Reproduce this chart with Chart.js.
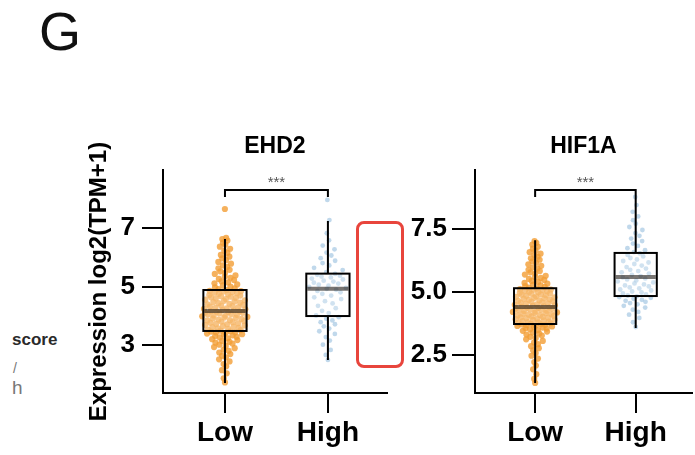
<!DOCTYPE html>
<html><head><meta charset="utf-8">
<script src="https://cdn.jsdelivr.net/npm/chart.js@4.4.1/dist/chart.umd.min.js"></script>
<style>
html,body{margin:0;padding:0;background:#fff;}
body{width:695px;height:455px;overflow:hidden;position:relative;font-family:"Liberation Sans",Arial,sans-serif;}
canvas{position:absolute;top:0}
#c1{left:0;width:390px;height:455px}
#c2{left:390px;width:305px;height:455px}
.t{position:absolute;white-space:nowrap;line-height:1}
#redbox{position:absolute;left:356px;top:221px;width:48px;height:147px;box-sizing:border-box;border:3px solid #e8453c;border-radius:8px;}
</style></head><body>
<div class="t" style="left:39px;top:4px;font-size:54px;color:#111">G</div>
<div class="t" style="left:12px;top:330.5px;font-size:17px;font-weight:bold;color:#2a2a2a">score</div>
<div class="t" style="left:13px;top:361px;font-size:14px;color:#777">/</div>
<div class="t" style="left:12px;top:378px;font-size:19px;color:#777">h</div>
<canvas id="c1" width="390" height="455"></canvas>
<canvas id="c2" width="305" height="455"></canvas>
<div id="redbox"></div>
<script>
// ---------------- data ----------------
const categories = ['Low', 'High'];
const panelTitles = ['EHD2', 'HIF1A'];
const yAxisTitle = 'Expression log2(TPM+1)';
const sigLabels = ['***', '***'];

const ehd2Low = [1.72,1.86,2.03,2.14,2.27,2.35,2.44,2.51,2.58,2.63,2.69,2.74,2.80,2.84,2.89,2.93,2.97,3.01,3.05,3.08,3.11,3.14,3.17,3.20,3.23,3.26,3.28,3.31,3.33,3.35,3.37,3.39,3.41,3.43,3.44,3.46,3.47,
 3.49,3.51,3.53,3.55,3.57,3.59,3.61,3.63,3.65,3.67,3.69,3.71,3.72,3.74,3.76,3.78,3.80,3.82,3.84,3.85,3.87,3.89,3.91,3.93,3.94,3.96,3.98,4.00,4.01,4.03,4.05,4.06,4.08,4.10,4.11,4.13,4.14,
 4.15,4.16,4.18,4.20,4.22,4.24,4.25,4.27,4.29,4.31,4.33,4.35,4.37,4.39,4.41,4.43,4.45,4.47,4.49,4.51,4.53,4.55,4.57,4.59,4.61,4.63,4.65,4.67,4.69,4.71,4.73,4.75,4.77,4.79,4.81,4.83,4.84,4.85,
 4.88,4.91,4.94,4.97,5.00,5.04,5.07,5.11,5.14,5.18,5.22,5.26,5.30,5.34,5.38,5.43,5.47,5.52,5.57,5.62,5.67,5.72,5.78,5.84,5.90,5.96,6.02,6.08,6.15,6.22,6.29,6.36,6.43,6.50,6.57,6.62,6.66,7.65];
const ehd2High = [2.49,2.66,2.83,3.01,3.15,3.27,3.38,3.47,3.56,3.64,3.71,3.78,3.84,3.90,3.95,
 4.01,4.09,4.17,4.26,4.34,4.42,4.50,4.57,4.63,4.69,4.75,4.80,4.85,4.89,4.92,
 4.95,4.99,5.03,5.06,5.10,5.13,5.17,5.20,5.24,5.27,5.31,5.34,5.37,5.40,5.43,
 5.49,5.56,5.64,5.72,5.80,5.88,5.97,6.06,6.16,6.27,6.40,6.58,6.82,7.27,7.96];
const hif1aLow = [1.39,1.55,1.74,1.93,2.08,2.22,2.36,2.47,2.58,2.68,2.77,2.85,2.93,3.00,3.06,3.12,3.17,3.22,3.27,3.31,3.35,3.39,3.43,3.46,3.49,3.52,3.55,3.57,3.59,3.61,3.63,3.65,3.67,3.68,3.70,3.71,3.72,
 3.74,3.76,3.78,3.80,3.81,3.83,3.85,3.87,3.89,3.90,3.92,3.94,3.96,3.98,3.99,4.01,4.03,4.05,4.07,4.08,4.10,4.12,4.14,4.16,4.17,4.19,4.21,4.23,4.25,4.26,4.28,4.30,4.32,4.34,4.35,4.37,4.38,4.39,
 4.41,4.43,4.45,4.47,4.49,4.51,4.53,4.55,4.57,4.59,4.61,4.63,4.65,4.67,4.69,4.71,4.73,4.75,4.77,4.79,4.81,4.83,4.85,4.87,4.89,4.91,4.93,4.95,4.97,4.99,5.01,5.03,5.05,5.07,5.09,5.10,5.11,
 5.14,5.17,5.20,5.23,5.26,5.29,5.33,5.36,5.40,5.44,5.48,5.52,5.56,5.60,5.64,5.69,5.73,5.78,5.83,5.88,5.93,5.98,6.04,6.10,6.16,6.22,6.28,6.34,6.40,6.46,6.52,6.58,6.65,6.72,6.80,6.88,6.95,7.02];
const hif1aHigh = [3.61,3.80,3.97,4.10,4.21,4.30,4.38,4.45,4.51,4.56,4.61,4.65,4.69,4.73,4.77,4.80,4.83,
 4.86,4.90,4.94,4.98,5.02,5.06,5.10,5.14,5.18,5.22,5.26,5.30,5.34,5.38,5.42,5.46,5.50,5.54,
 5.58,5.63,5.68,5.73,5.78,5.83,5.88,5.93,5.99,6.05,6.11,6.17,6.23,6.29,6.35,6.41,6.47,6.53,
 6.58,6.66,6.74,6.83,6.92,7.02,7.12,7.23,7.34,7.46,7.58,7.71,7.85,8.00,8.18,8.45,8.77];

// box statistics: [whiskerLow, q1, median, q3, whiskerHigh]
const ehd2Stats = [[1.70, 3.48, 4.16, 4.88, 6.62], [2.49, 3.99, 4.92, 5.44, 7.24]];
const hif1aStats = [[1.39, 3.73, 4.40, 5.15, 7.05], [3.57, 4.84, 5.60, 6.55, 8.77]];

// significance bracket heights [top, leg end]
const ehd2Bracket = [8.30, 8.06];
const hif1aBracket = [9.05, 8.77];

// axis ticks
const ehd2YTicks = [3, 5, 7];
const ehd2YTickLabels = ['3', '5', '7'];
const hif1aYTicks = [2.5, 5.0, 7.5];
const hif1aYTickLabels = ['2.5', '5.0', '7.5'];
const ehd2YRange = [1.359, 8.983];
const hif1aYRange = [0.992, 9.841];

// ---------------- layout helpers ----------------
const FONT = '"Liberation Sans", Arial, Helvetica, sans-serif';
Chart.defaults.font.family = FONT;
const LOW_COLOR = 'rgba(243,157,52,0.8)';
const HIGH_COLOR = 'rgba(150,190,222,0.6)';
const BOX_HALF = 0.21;

function vdc(n) { let v = 0, d = 1; while (n > 0) { d *= 2; v += (n % 2) / d; n = Math.floor(n / 2); } return v; }
// quasirandom (violin-shaped) horizontal layout of points
function quasi(vals, center, halfWidth) {
  const n = vals.length;
  const mean = vals.reduce((a, b) => a + b, 0) / n;
  const sd = Math.sqrt(vals.reduce((a, b) => a + (b - mean) ** 2, 0) / (n - 1));
  const h = 0.9 * sd * Math.pow(n, -0.2);
  const dens = vals.map(v => vals.reduce((a, b) => a + Math.exp(-0.5 * ((v - b) / h) ** 2), 0));
  const mx = Math.max(...dens);
  const order = vals.map((v, i) => i).sort((a, b) => vals[a] - vals[b]);
  const out = new Array(n);
  order.forEach((idx, rank) => { out[idx] = center + (vdc(rank + 1) * 2 - 1) * halfWidth * dens[idx] / mx; });
  return out;
}

const boxPlugin = {
  id: 'boxes',
  afterDatasetsDraw(chart, args, opts) {
    const { ctx } = chart;
    const x = chart.scales.x, y = chart.scales.y;
    ctx.save();
    opts.stats.forEach((s, i) => {
      const c = i + 1;
      const cx = x.getPixelForValue(c);
      const l = x.getPixelForValue(c - BOX_HALF), r = x.getPixelForValue(c + BOX_HALF);
      const [wl, q1, med, q3, wh] = s.map(v => y.getPixelForValue(v));
      ctx.strokeStyle = '#000'; ctx.lineWidth = 2;
      ctx.beginPath();
      ctx.moveTo(cx, wh); ctx.lineTo(cx, q3);
      ctx.moveTo(cx, q1); ctx.lineTo(cx, wl);
      ctx.stroke();
      ctx.fillStyle = 'rgba(255,255,255,0.25)';
      ctx.fillRect(l, q3, r - l, q1 - q3);
      ctx.strokeRect(l, q3, r - l, q1 - q3);
      ctx.strokeStyle = 'rgba(30,25,20,0.6)'; ctx.lineWidth = 4;
      ctx.beginPath(); ctx.moveTo(l + 1, med); ctx.lineTo(r - 1, med); ctx.stroke();
    });
    // bracket
    const x1 = x.getPixelForValue(1), x2 = x.getPixelForValue(2);
    const yt = y.getPixelForValue(opts.bracket[0]), yl = y.getPixelForValue(opts.bracket[1]);
    ctx.strokeStyle = '#000'; ctx.lineWidth = 2;
    ctx.beginPath();
    ctx.moveTo(x1, yl); ctx.lineTo(x1, yt); ctx.lineTo(x2, yt); ctx.lineTo(x2, yl);
    ctx.stroke();
    ctx.fillStyle = '#555'; ctx.font = '15px ' + FONT;
    ctx.textAlign = 'center'; ctx.textBaseline = 'alphabetic';
    ctx.fillText(opts.sig, (x1 + x2) / 2, yt - 3);
    ctx.restore();
  }
};

function makePanel(id, p) {
  const lx = quasi(p.low, 1, 0.225);
  const hx = quasi(p.high, 2, 0.19);
  return new Chart(document.getElementById(id), {
    type: 'scatter',
    data: {
      datasets: [
        { data: p.low.map((v, i) => ({ x: lx[i], y: v })), backgroundColor: LOW_COLOR, pointRadius: 3.1, borderWidth: 0, pointHoverRadius: 3.1 },
        { data: p.high.map((v, i) => ({ x: hx[i], y: v })), backgroundColor: HIGH_COLOR, pointRadius: 2.4, borderWidth: 0, pointHoverRadius: 2.4 }
      ]
    },
    options: {
      responsive: false, animation: false, events: [], devicePixelRatio: 1,
      layout: { padding: { top: 120, left: 0, right: p.padRight, bottom: 0 } },
      plugins: {
        legend: { display: false }, tooltip: { enabled: false },
        title: { display: true, text: p.title, fullSize: false, color: '#000',
          font: { family: FONT, size: 23, weight: 'bold' }, padding: { top: 12.7, bottom: 9.7 } },
        boxes: { stats: p.stats, bracket: p.bracket, sig: p.sig }
      },
      scales: {
        x: {
          type: 'linear', min: p.xr[0], max: p.xr[1],
          afterBuildTicks: s => { s.ticks = [1, 2].map(v => ({ value: v })); },
          afterFit: s => { s.height = 62; },
          ticks: { callback: v => categories[v - 1], color: '#000', font: { family: FONT, size: 28, weight: 'bold' }, padding: 3, maxRotation: 0, autoSkip: false },
          grid: { display: true, drawOnChartArea: false, drawTicks: true, tickLength: 20, color: '#000', lineWidth: 2 },
          border: { display: true, color: '#000', width: 2 }
        },
        y: {
          type: 'linear', min: p.yr[0], max: p.yr[1],
          afterBuildTicks: s => { s.ticks = p.yTicks.map(v => ({ value: v })); },
          afterFit: s => { s.width = p.yWidth; },
          ticks: { callback: v => p.yLabels[p.yTicks.indexOf(v)], color: '#000', font: { family: FONT, size: 26, weight: 'bold' }, padding: p.tickPad },
          grid: { display: true, drawOnChartArea: false, drawTicks: true, tickLength: p.tickLen, color: '#000', lineWidth: 2 },
          border: { display: true, color: '#000', width: 2 },
          title: { display: !!p.yTitle, text: p.yTitle || '', color: '#000', font: { family: FONT, size: 24, weight: 'bold' }, padding: { top: 84.6, bottom: 0 } }
        }
      }
    },
    plugins: [boxPlugin]
  });
}

makePanel('c1', { title: panelTitles[0], low: ehd2Low, high: ehd2High, stats: ehd2Stats, bracket: ehd2Bracket, sig: sigLabels[0],
  xr: [0.398, 2.573], yr: ehd2YRange, yTicks: ehd2YTicks, yLabels: ehd2YTickLabels, yWidth: 163, padRight: 3, tickLen: 21, tickPad: 7, yTitle: yAxisTitle });
makePanel('c2', { title: panelTitles[1], low: hif1aLow, high: hif1aHigh, stats: hif1aStats, bracket: hif1aBracket, sig: sigLabels[1],
  xr: [0.402, 2.559], yr: hif1aYRange, yTicks: hif1aYTicks, yLabels: hif1aYTickLabels, yWidth: 85, padRight: 0, tickLen: 23, tickPad: 5, yTitle: null });
</script>
</body></html>
